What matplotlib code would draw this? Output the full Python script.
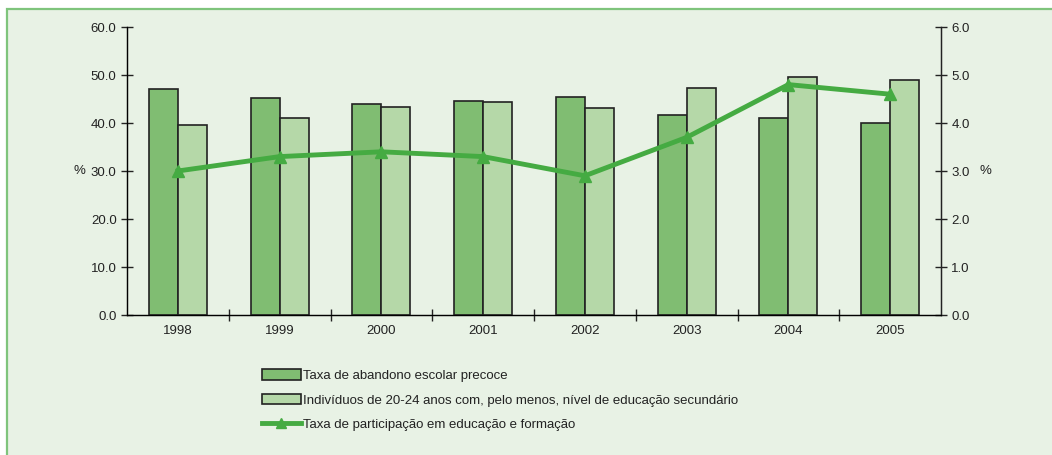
import matplotlib
matplotlib.use('Agg')
import numpy as np
import matplotlib.pyplot as plt
from matplotlib.patches import Rectangle
from matplotlib.lines import Line2D
from matplotlib.ticker import FormatStrFormatter

plt.rcParams['font.family'] = ['Liberation Sans', 'DejaVu Sans']

# Dados
anos = ['1998', '1999', '2000', '2001', '2002', '2003', '2004', '2005']
abandono = [47.0, 45.2, 44.0, 44.6, 45.4, 41.7, 41.0, 39.9]
secundario = [39.6, 41.0, 43.3, 44.3, 43.1, 47.3, 49.6, 49.0]
participacao = [3.0, 3.3, 3.4, 3.3, 2.9, 3.7, 4.8, 4.6]

nomes = [
    'Taxa de abandono escolar precoce',
    'Indivíduos de 20-24 anos com, pelo menos, nível de educação secundário',
    'Taxa de participação em educação e formação',
]

cor_escura = '#80bd72'
cor_clara = '#b5d8a8'
cor_linha = '#45ab42'
cor_texto = '#222222'

fig = plt.figure(figsize=(10.52, 4.55), dpi=100)
fig.patch.set_facecolor('white')

# Moldura verde de fundo
fundo = Rectangle((7 / 1052, -0.01), 1.0, 1 - 9 / 455 + 0.01,
                  transform=fig.transFigure, facecolor='#e8f2e5',
                  edgecolor='#7fc47c', linewidth=1.6, zorder=-10)
fig.patches.append(fundo)

ax = fig.add_axes([127 / 1052, 1 - 315 / 455, 814 / 1052, 288 / 455])
ax.set_facecolor('none')

x = np.arange(len(anos))
largura = 0.285
ax.bar(x - largura / 2, abandono, largura, color=cor_escura,
       edgecolor=cor_texto, linewidth=1.2, zorder=2)
ax.bar(x + largura / 2, secundario, largura, color=cor_clara,
       edgecolor=cor_texto, linewidth=1.2, zorder=2)

ax.set_xlim(-0.5, len(anos) - 0.5)
ax.set_ylim(0, 60)
ax.set_yticks(np.arange(0, 61, 10))
ax.yaxis.set_major_formatter(FormatStrFormatter('%.1f'))
ax.set_xticks(np.arange(0.5, len(anos) - 0.5, 1))
ax.set_xticklabels([])
ax.set_xticks(x, minor=True)
ax.set_xticklabels(anos, minor=True)
ax.tick_params(axis='x', which='minor', length=0, pad=7,
               labelsize=9.5, colors=cor_texto)
ax.tick_params(axis='x', which='major', direction='inout', length=9,
               width=1, color=cor_texto)
ax.tick_params(axis='y', direction='inout', length=9, width=1,
               labelsize=9.5, colors=cor_texto, pad=3)

for s in ['left', 'bottom', 'right']:
    ax.spines[s].set_color(cor_texto)
    ax.spines[s].set_linewidth(1)
ax.spines['top'].set_visible(False)

ax.set_ylabel('%', rotation=0, fontsize=9.5, color=cor_texto, va='center',
              ha='center')
ax.yaxis.set_label_coords(-0.058, 0.5)

# Eixo secundário
ax2 = ax.twinx()
ax2.plot(x, participacao, color=cor_linha, linewidth=3.5, marker='^',
         markersize=8, zorder=3)
ax2.set_ylim(0, 6)
ax2.set_yticks(np.arange(0, 6.1, 1))
ax2.yaxis.set_major_formatter(FormatStrFormatter('%.1f'))
ax2.tick_params(axis='y', direction='inout', length=9, width=1,
                labelsize=9.5, colors=cor_texto, pad=3)
ax2.spines['top'].set_visible(False)
ax2.spines['right'].set_color(cor_texto)
ax2.set_ylabel('%', rotation=0, fontsize=9.5, color=cor_texto, va='center',
               ha='center')
ax2.yaxis.set_label_coords(1.054, 0.5)

# Legenda
handles = [
    Rectangle((0, 0), 1, 1, facecolor=cor_escura, edgecolor=cor_texto,
              linewidth=1.2),
    Rectangle((0, 0), 1, 1, facecolor=cor_clara, edgecolor=cor_texto,
              linewidth=1.2),
    Line2D([], [], color=cor_linha, linewidth=3.5, marker='^',
           markersize=7),
]
fig.legend(handles, nomes, loc='upper left',
           bbox_to_anchor=(257 / 1052, 1 - 364 / 455), frameon=False,
           fontsize=9.5, handlelength=2.9, handleheight=0.9,
           handletextpad=0.2, labelspacing=0.85, borderaxespad=0,
           labelcolor=cor_texto)

plt.savefig('out.png', dpi=100)
plt.close()
